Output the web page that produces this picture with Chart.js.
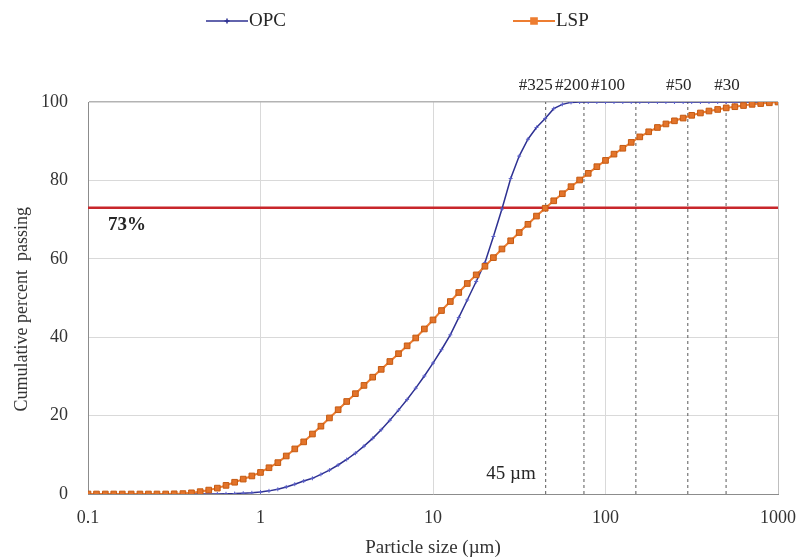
<!DOCTYPE html>
<html>
<head>
<meta charset="utf-8">
<script src="https://cdn.jsdelivr.net/npm/chart.js@4"></script>
<style>
  html, body { margin: 0; padding: 0; background: #fff; }
  #wrap { width: 803px; height: 558px; }
</style>
</head>
<body>
<div id="wrap"><canvas id="psd"></canvas></div>
<script>
// particle size channels (µm)
const sizes = [
  0.1, 0.112, 0.126, 0.141, 0.158, 0.178, 0.2, 0.224, 0.251, 0.282,
  0.316, 0.355, 0.398, 0.447, 0.501, 0.562, 0.631, 0.708, 0.794, 0.891,
  1, 1.12, 1.26, 1.41, 1.58, 1.78, 2, 2.24, 2.51, 2.82,
  3.16, 3.55, 3.98, 4.47, 5.01, 5.62, 6.31, 7.08, 7.94, 8.91,
  10, 11.2, 12.6, 14.1, 15.8, 17.8, 20, 22.4, 25.1, 28.2,
  31.6, 35.5, 39.8, 44.7, 50.1, 56.2, 63.1, 70.8, 79.4, 89.1,
  100, 112, 126, 141, 158, 178, 200, 224, 251, 282,
  316, 355, 398, 447, 501, 562, 631, 708, 794, 891,
  1000
];

// cumulative % passing
const opc = [
  0, 0, 0, 0, 0, 0, 0, 0, 0, 0,
  0, 0, 0, 0, 0, 0.02, 0.05, 0.1, 0.2, 0.3,
  0.5, 0.8, 1.2, 1.8, 2.5, 3.3, 4.0, 5.0, 6.1, 7.4,
  8.8, 10.4, 12.2, 14.2, 16.4, 18.8, 21.4, 24.1, 27.0, 30.1,
  33.4, 36.8, 40.6, 45.0, 49.5, 54.2, 59.0, 65.7, 72.7, 80.5,
  86.2, 90.5, 93.5, 95.8, 98.3, 99.4, 99.9, 100, 100, 100,
  100, 100, 100, 100, 100, 100, 100, 100, 100, 100,
  100, 100, 100, 100, 100, 100, 100, 100, 100, 100,
  100
];

const lsp = [
  0, 0, 0, 0, 0, 0, 0, 0, 0, 0,
  0.05, 0.1, 0.3, 0.6, 1.0, 1.5, 2.2, 3.0, 3.8, 4.6,
  5.5, 6.7, 8.0, 9.7, 11.5, 13.3, 15.3, 17.3, 19.4, 21.5,
  23.6, 25.6, 27.7, 29.8, 31.8, 33.8, 35.8, 37.8, 39.8, 42.1,
  44.4, 46.8, 49.1, 51.4, 53.7, 55.9, 58.1, 60.3, 62.5, 64.6,
  66.7, 68.8, 70.9, 72.9, 74.8, 76.6, 78.4, 80.1, 81.8, 83.5,
  85.1, 86.7, 88.2, 89.7, 91.1, 92.4, 93.5, 94.4, 95.2, 95.9,
  96.6, 97.2, 97.7, 98.1, 98.5, 98.8, 99.1, 99.4, 99.6, 99.8,
  100
];

// sieve openings (µm) and their mesh numbers
const sieveSizes = [45, 75, 150, 300, 500];
const sieveNames = ['#325', '#200', '#100', '#50', '#30'];

const xTicks = [0.1, 1, 10, 100, 1000];
const cutLevel = 73;

const FONT = "'Liberation Serif', 'Times New Roman', serif";
const OPC_COLOR = '#2E3192';
const LSP_COLOR = '#ED7D31';
const CUT_COLOR = '#C8262B';

const pts = ys => sizes.map((x, i) => ({ x, y: ys[i] }));

const sieveSets = sieveSizes.map(s => ({
  data: [{ x: s, y: 0 }, { x: s, y: 100 }],
  borderColor: '#5a5a5a',
  borderWidth: 1,
  borderDash: [3, 3],
  pointRadius: 0,
  order: 5
}));

// text notes, mesh labels and the legend row
const notes = {
  id: 'notes',
  afterDraw(chart) {
    const { ctx, chartArea } = chart;
    const xs = chart.scales.x, ys = chart.scales.y;
    ctx.save();
    ctx.fillStyle = '#262626';
    ctx.textBaseline = 'middle';

    ctx.font = `17px ${FONT}`;
    ctx.textAlign = 'center';
    const nudge = [-10, -12, -28, -9, 1];
    sieveSizes.forEach((s, i) => {
      ctx.fillText(sieveNames[i], xs.getPixelForValue(s) + nudge[i], chartArea.top - 16);
    });

    ctx.font = `19px ${FONT}`;
    ctx.textAlign = 'right';
    ctx.fillText('45 µm', xs.getPixelForValue(45) - 10, ys.getPixelForValue(5));

    ctx.font = `bold 19px ${FONT}`;
    ctx.textAlign = 'left';
    ctx.fillText(cutLevel + '%', chartArea.left + 20, ys.getPixelForValue(cutLevel) + 17);

    // legend
    ctx.font = `19px ${FONT}`;
    const items = [
      { x: 206, label: 'OPC', color: OPC_COLOR, style: 'cross', r: 2.5, w: 1.5 },
      { x: 513, label: 'LSP', color: LSP_COLOR, style: 'rect', r: 4, w: 2 }
    ];
    const ly = 21;
    items.forEach(it => {
      ctx.strokeStyle = it.color;
      ctx.lineWidth = it.w;
      ctx.beginPath();
      ctx.moveTo(it.x, ly);
      ctx.lineTo(it.x + 42, ly);
      ctx.stroke();
      ctx.fillStyle = it.color;
      Chart.helpers.drawPoint(ctx, { pointStyle: it.style, radius: it.r, borderWidth: 1 }, it.x + 21, ly);
      if (it.style === 'rect') ctx.fill();
      ctx.fillStyle = '#262626';
      ctx.fillText(it.label, it.x + 43, ly);
    });
    ctx.restore();
  }
};

new Chart(document.getElementById('psd'), {
  type: 'line',
  data: {
    datasets: [
      {
        label: 'LSP',
        data: pts(lsp),
        borderColor: LSP_COLOR,
        borderWidth: 2,
        pointStyle: 'rect',
        pointRadius: 4,
        pointBackgroundColor: '#E3742B',
        pointBorderColor: '#C55A11',
        pointBorderWidth: 1,
        order: 1
      },
      {
        label: 'OPC',
        data: pts(opc),
        borderColor: OPC_COLOR,
        borderWidth: 1.5,
        pointStyle: 'cross',
        pointRadius: 2,
        pointBorderColor: '#5a5fc8',
        pointBorderWidth: 1,
        order: 2
      },
      {
        label: 'cut',
        data: [{ x: 0.1, y: cutLevel }, { x: 1000, y: cutLevel }],
        borderColor: CUT_COLOR,
        borderWidth: 2.5,
        pointRadius: 0,
        order: 4
      },
      ...sieveSets
    ]
  },
  options: {
    responsive: true,
    maintainAspectRatio: false,
    animation: false,
    layout: { padding: { top: 102, right: 25, bottom: 0, left: 0 } },
    plugins: {
      legend: { display: false },
      tooltip: { enabled: false }
    },
    scales: {
      x: {
        type: 'logarithmic',
        min: 0.1,
        max: 1000,
        afterBuildTicks: s => { s.ticks = xTicks.map(v => ({ value: v })); },
        afterFit: s => { s.height = 64; s.paddingLeft = 0; s.paddingRight = 0; },
        ticks: {
          callback: v => String(v),
          color: '#333',
          font: { family: FONT, size: 18 },
          padding: 13,
          maxRotation: 0,
          autoSkip: false
        },
        grid: {
          color: ctx => ctx.tick && ctx.tick.value === 1000 ? '#bfbfbf' : '#d9d9d9',
          drawTicks: false
        },
        border: { color: '#8c8c8c' },
        title: {
          display: true,
          text: 'Particle size (µm)',
          color: '#333',
          font: { family: FONT, size: 19, lineHeight: 1.05 },
          padding: { top: 0, bottom: 0 }
        }
      },
      y: {
        min: 0,
        max: 100,
        afterFit: s => { s.width = 88; s.paddingTop = 0; s.paddingBottom = 0; },
        ticks: {
          stepSize: 20,
          color: '#333',
          font: { family: FONT, size: 18 },
          padding: 20
        },
        grid: {
          color: ctx => ctx.tick && ctx.tick.value === 100 ? '#b3b3b3' : '#d9d9d9',
          lineWidth: ctx => ctx.tick && ctx.tick.value === 100 ? 1.5 : 1,
          drawTicks: false
        },
        border: { color: '#8c8c8c' },
        title: {
          display: true,
          // trailing spaces push the label slightly toward the bottom
          text: 'Cumulative percent  passing     ',
          color: '#333',
          font: { family: FONT, size: 18, lineHeight: 1 },
          padding: { top: 13, bottom: 0 }
        }
      }
    }
  },
  plugins: [notes]
});
</script>
</body>
</html>
